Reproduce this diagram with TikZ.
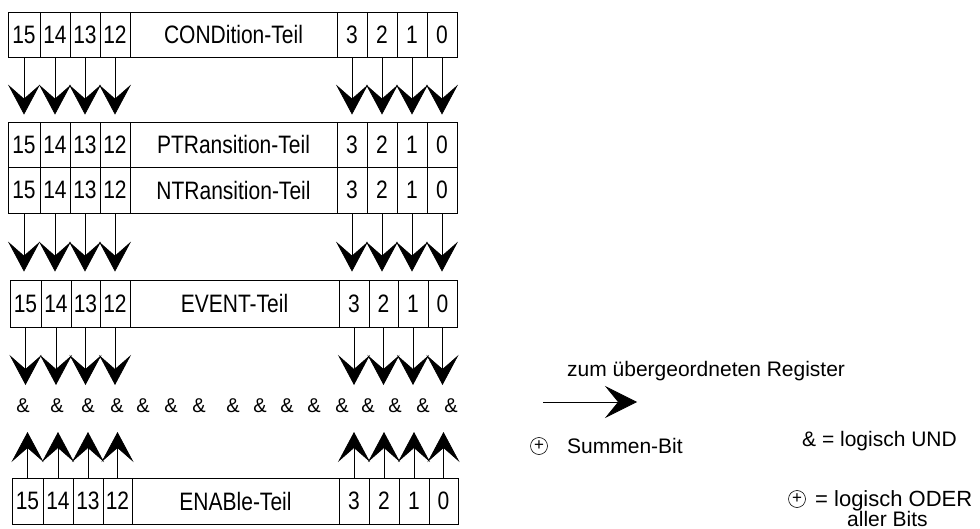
\documentclass[tikz,border=0pt]{standalone}
\usepackage{fontspec}
\setmainfont{Liberation Sans}
\usepackage{graphicx}
\usetikzlibrary{arrows.meta}
\newcommand{\cellnode}[6]{\node[cell, minimum width={#3-#2}, minimum height={#5-#4}] (#1) at ({(#2+#3)/2},{(#4+#5)/2}) {\scalebox{1}[1.2]{#6}};}
\newcommand{\regrow}[4]{\foreach \n/\a/\b/\t in {#4} {\cellnode{#1-\n}{\a}{\b}{#2}{#3}{\t}}}
\begin{document}
\begin{tikzpicture}[x=1pt,y=-1pt,
  cell/.style={draw, line width=0.8pt, rectangle, inner sep=0pt, font=\fontsize{21}{24}\selectfont},
  darr/.style={line width=0.7pt, -{Stealth[length=30pt,width=32pt,inset=14pt]}},
  ampsym/.style={font=\fontsize{20}{22}\selectfont, inner sep=0pt},
  lbl/.style={font=\fontsize{21}{24}\selectfont, inner sep=0pt, anchor=base west},
  osym/.style={circle, draw, line width=0.6pt, minimum size=17pt, inner sep=0pt, font=\fontsize{17}{18}\selectfont}]
\useasboundingbox (0,0) rectangle (980,529);
% registers
\regrow{r1}{12}{57}{15/8/40/15, 14/40/70/14, 13/70/100/13, 12/100/130/12, L/130/337/CONDition-Teil, 3/337/367/3, 2/367/397/2, 1/397/427/1, 0/427/457/0}
\regrow{r2}{122}{167}{15/8/40/15, 14/40/70/14, 13/70/100/13, 12/100/130/12, L/130/337/PTRansition-Teil, 3/337/367/3, 2/367/397/2, 1/397/427/1, 0/427/457/0}
\regrow{r3}{167}{213}{15/8/40/15, 14/40/70/14, 13/70/100/13, 12/100/130/12, L/130/337/NTRansition-Teil, 3/337/367/3, 2/367/397/2, 1/397/427/1, 0/427/457/0}
\regrow{r4}{280}{327}{15/10/41/15, 14/41/71/14, 13/71/100/13, 12/100/130/12, L/130/339/EVENT-Teil, 3/339/369/3, 2/369/398/2, 1/398/428/1, 0/428/457/0}
\regrow{r5}{478}{524}{15/12/43/15, 14/43/73/14, 13/73/103/13, 12/103/132/12, L/132/339/ENABle-Teil, 3/339/369/3, 2/369/399/2, 1/399/429/1, 0/429/458/0}
% AND row
\foreach \i/\x in {1/23,2/57,3/88,4/117,5/143,6/171,7/199,8/233,9/260,10/287,11/314,12/342,13/368,14/395,15/423,16/451}
  \node[ampsym] (and\i) at (\x,406) {\&};
% arrows
\foreach \n in {15,14,13,12,3,2,1,0} {
  \draw[darr, shorten >=7pt] (r1-\n.south) -- (r1-\n.south |- r2-\n.north);
  \draw[darr, shorten >=8pt] (r3-\n.south) -- (r3-\n.south |- r4-\n.north);
  \draw[darr, shorten >=21pt] (r4-\n.south) -- (r4-\n.south |- and1.center);
  \draw[darr, shorten >=26pt] (r5-\n.north) -- (r5-\n.north |- and1.center);
}
% legend
\node[lbl] (regtxt) at (567,377) {zum übergeordneten Register};
\coordinate (ra) at (543,402);
\coordinate (rb) at (637,402);
\draw[line width=0.7pt, -{Stealth[length=32pt,width=32pt,inset=13pt]}] (ra) -- (rb);
\node[osym] (sum) at (539,446) {+};
\node[lbl] (sumtxt) at (567,453) {Summen-Bit};
\node[lbl] (und) at (802,446) {\& = logisch UND};
\node[osym] (oder) at (797,499) {+};
\node[lbl, font=\fontsize{22}{24}\selectfont] (odertxt) at (815,506) {= logisch ODER};
\node[lbl] (bits) at (847,526) {aller Bits};
\end{tikzpicture}
\end{document}
